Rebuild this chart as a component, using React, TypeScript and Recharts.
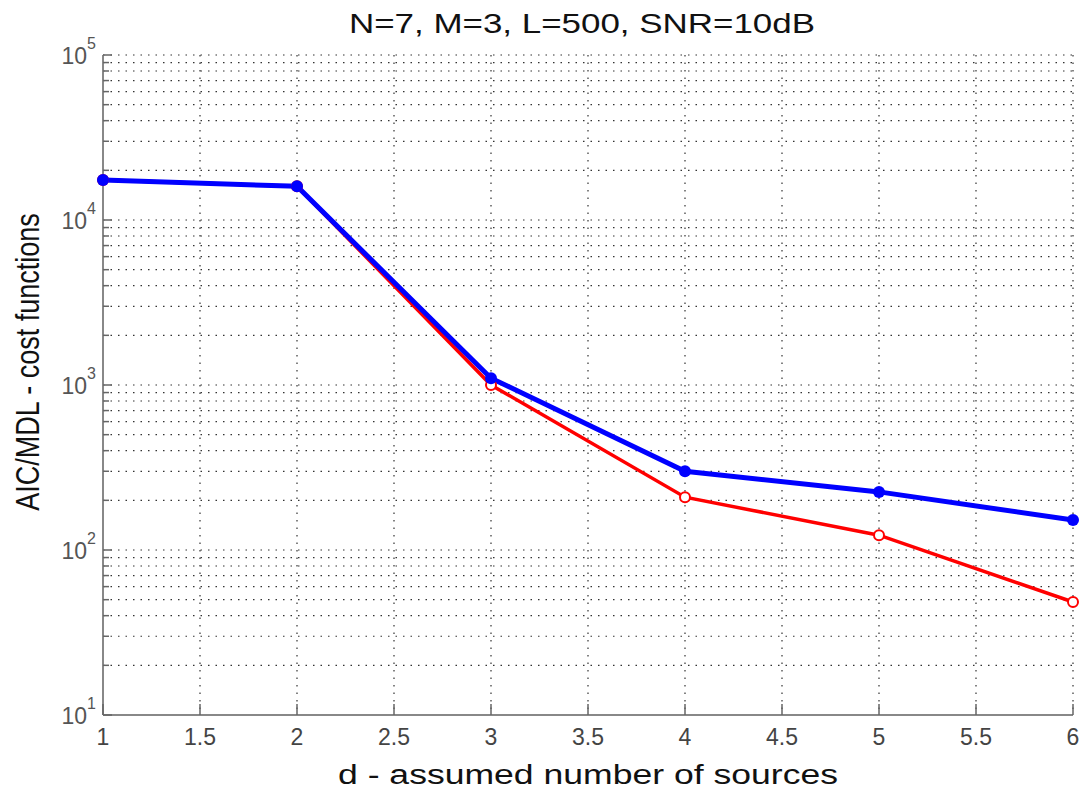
import { CartesianGrid, Line, LineChart, XAxis, YAxis } from "recharts";

const sources = [1, 2, 3, 4, 5, 6];
const aicCost = [17500, 16000, 1000, 209, 123, 48.4];
const mdlCost = [17500, 16000, 1100, 300, 225, 152];

const xTicks = [1, 1.5, 2, 2.5, 3, 3.5, 4, 4.5, 5, 5.5, 6];
const decades = [10, 100, 1000, 10000];
const mantissas = [1, 2, 3, 4, 5, 6, 7, 8, 9];
const yTicks = [...decades.flatMap((d) => mantissas.map((m) => m * d)), 100000];

const title = "N=7, M=3, L=500, SNR=10dB";

const data = sources.map((d, i) => ({ d, aic: aicCost[i], mdl: mdlCost[i] }));

const isDecade = (v: number) => Math.abs(Math.log10(v) - Math.round(Math.log10(v))) < 1e-9;

const LeftTick = (props: any) => {
  const { x, y, payload } = props;
  const v = payload.value;
  const major = isDecade(v);
  return (
    <g>
      <line x1={x} x2={x + (major ? 9 : 6)} y1={y} y2={y} stroke="#666" strokeWidth={1.5} />
      {major && (
        <text x={x - 7} y={y + 9} textAnchor="end" fontSize={23} fill="#555" fontFamily="Liberation Sans, Arial">
          10
          <tspan dy={-15} fontSize={16}>
            {Math.round(Math.log10(v))}
          </tspan>
        </text>
      )}
    </g>
  );
};

const RightTick = (props: any) => {
  const { x, y, payload } = props;
  const major = isDecade(payload.value);
  return <line x1={x} x2={x - (major ? 9 : 6)} y1={y} y2={y} stroke="#666" strokeWidth={1.5} />;
};

const BottomTick = (props: any) => {
  const { x, y, payload } = props;
  return (
    <g>
      <line x1={x} x2={x} y1={y} y2={y - 11} stroke="#666" strokeWidth={1.5} />
      <text x={x} y={y + 30} textAnchor="middle" fontSize={23} fill="#444" fontFamily="Liberation Sans, Arial">
        {payload.value}
      </text>
    </g>
  );
};

const TopTick = (props: any) => {
  const { x, y } = props;
  return <line x1={x} x2={x} y1={y} y2={y + 9} stroke="#666" strokeWidth={1.5} />;
};

const RedDot = (props: any) => {
  const { cx, cy } = props;
  return <circle cx={cx} cy={cy} r={5} fill="#fff" stroke="#ff0000" strokeWidth={2} />;
};

const BlueDot = (props: any) => {
  const { cx, cy } = props;
  return <circle cx={cx} cy={cy} r={6} fill="#0000ff" />;
};

export default function App() {
  return (
    <div style={{ position: "absolute", left: 0, top: 0, width: 1089, height: 797, background: "#fff" }}>
      <svg width={1089} height={50} style={{ position: "absolute", left: 0, top: 0 }}>
        <text
          x={582}
          y={33}
          textAnchor="middle"
          fontSize={27}
          fill="#111"
          fontFamily="Liberation Sans, Arial"
          textLength={466}
          lengthAdjust="spacingAndGlyphs"
        >
          {title}
        </text>
      </svg>
      <LineChart width={1089} height={797} data={data} margin={{ top: 55, right: 16, bottom: 32, left: 33 }}>
        <CartesianGrid stroke="#333" strokeDasharray="1.5 6" strokeWidth={1.2} />
        <XAxis
          dataKey="d"
          type="number"
          domain={[1, 6]}
          ticks={xTicks}
          height={50}
          tickSize={0}
          tickMargin={0}
          tick={<BottomTick />}
          axisLine={{ stroke: "#888", strokeWidth: 2 }}
          label={{
            content: (p: any) => {
              const vb = p.viewBox;
              return (
                <text
                  x={vb.x + vb.width / 2}
                  y={784}
                  textAnchor="middle"
                  fontSize={27}
                  fill="#111"
                  fontFamily="Liberation Sans, Arial"
                  textLength={500}
                  lengthAdjust="spacingAndGlyphs"
                >
                  d - assumed number of sources
                </text>
              );
            },
          }}
        />
        <XAxis
          xAxisId="top"
          orientation="top"
          dataKey="d"
          type="number"
          domain={[1, 6]}
          ticks={xTicks}
          height={0}
          tickSize={0}
          tickMargin={0}
          tick={<TopTick />}
          axisLine={{ stroke: "#888", strokeWidth: 2 }}
        />
        <YAxis
          scale="log"
          type="number"
          domain={[10, 100000]}
          allowDataOverflow
          ticks={yTicks}
          interval={0}
          width={70}
          tickSize={0}
          tickMargin={0}
          tick={<LeftTick />}
          axisLine={{ stroke: "#888", strokeWidth: 2 }}
          label={{
            content: () => (
              <text
                transform="translate(39,362) scale(1.24,1) rotate(-90)"
                textAnchor="middle"
                fontSize={27}
                fill="#111"
                fontFamily="Liberation Sans, Arial"
              >
                AIC/MDL - cost functions
              </text>
            ),
          }}
        />
        <YAxis
          yAxisId="right"
          orientation="right"
          scale="log"
          type="number"
          domain={[10, 100000]}
          allowDataOverflow
          ticks={yTicks}
          interval={0}
          width={0}
          tickSize={0}
          tickMargin={0}
          tick={<RightTick />}
          axisLine={{ stroke: "#888", strokeWidth: 2 }}
        />
        <Line
          dataKey="aic"
          stroke="#ff0000"
          strokeWidth={3.5}
          dot={<RedDot />}
          isAnimationActive={false}
        />
        <Line
          dataKey="mdl"
          stroke="#0000ff"
          strokeWidth={5}
          dot={<BlueDot />}
          isAnimationActive={false}
        />
      </LineChart>
    </div>
  );
}
